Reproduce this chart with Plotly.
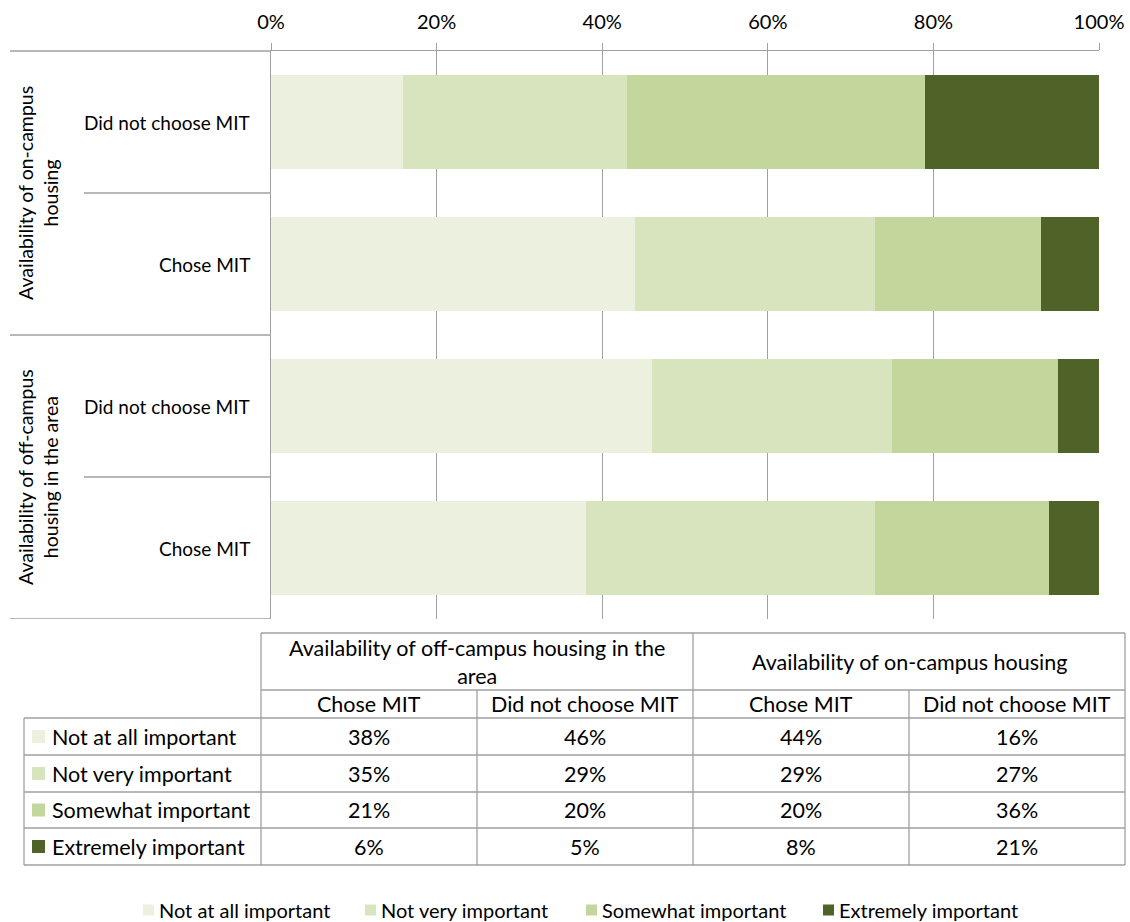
import plotly.graph_objects as go

# ---------------- data ----------------
groups = ["Availability of off-campus housing in the area", "Availability of on-campus housing"]
group_labels_axis = ["Availability of off-campus<br>housing in the area", "Availability of on-campus<br>housing"]
group_labels_table = ["Availability of off-campus housing in the<br>area", "Availability of on-campus housing"]
subgroups = ["Chose MIT", "Did not choose MIT"]
series = ["Not at all important", "Not very important", "Somewhat important", "Extremely important"]
colors = ["#EBF1DE", "#D7E4BD", "#C3D69B", "#4F6228"]
# order of columns: off-campus/Chose, off-campus/Did not, on-campus/Chose, on-campus/Did not
not_at_all = [38, 46, 44, 16]
not_very = [35, 29, 29, 27]
somewhat = [21, 20, 20, 36]
extremely = [6, 5, 8, 21]
values = [not_at_all, not_very, somewhat, extremely]
tick_vals = [0, 0.2, 0.4, 0.6, 0.8, 1.0]

# ---------------- geometry helpers ----------------
W, H = 1130, 922
FONT = "Lato"
TXT = "#000000"
LINE = "#A0A0A0"


def px(x):
    return x / W


def py(y):
    return 1 - y / H


cats = []
for g in groups:
    for s in subgroups:
        cats.append((g, s))
ypos = list(range(len(cats)))  # 0 = bottom

fig = go.Figure()
for name, col, vals in zip(series, colors, values):
    fig.add_trace(go.Bar(
        x=[v / 100 for v in vals], y=ypos, orientation="h", name=name,
        marker=dict(color=col, line=dict(width=0)), width=0.66,
        showlegend=False, hoverinfo="skip"))

shapes = []
annotations = []
LW = 1.3

# category axis separators
shapes.append(dict(type="line", xref="paper", yref="paper", x0=px(10), x1=px(271), y0=py(51), y1=py(51),
                   line=dict(color=LINE, width=LW)))
n_sub = len(subgroups)
for gi in range(len(groups)):
    lo = gi * n_sub - 0.5
    hi = (gi + 1) * n_sub - 0.5
    shapes.append(dict(type="line", xref="paper", yref="y", x0=px(10), x1=px(271), y0=lo, y1=lo,
                       line=dict(color=LINE, width=LW)))
    for k in range(1, n_sub):
        yy = lo + k
        shapes.append(dict(type="line", xref="paper", yref="y", x0=px(84), x1=px(271), y0=yy, y1=yy,
                           line=dict(color=LINE, width=LW)))
    annotations.append(dict(xref="paper", yref="y", x=px(38), y=(lo + hi) / 2, text=group_labels_axis[gi],
                            textangle=-90, showarrow=False, xanchor="center", yanchor="middle",
                            font=dict(family=FONT, size=19.5, color=TXT)))

for (g, s), yv in zip(cats, ypos):
    annotations.append(dict(xref="paper", yref="y", x=px(252), y=yv, text=s, showarrow=False,
                            xanchor="right", yanchor="middle", font=dict(family=FONT, size=19, color=TXT)))

# ---------------- data table ----------------
col_x = [261, 477, 693, 909, 1125]
left_x = 24
row_y = [633, 690, 718, 755, 792, 828, 865]


def hline(x0, x1, y):
    shapes.append(dict(type="line", xref="paper", yref="paper", x0=px(x0), x1=px(x1), y0=py(y), y1=py(y),
                       line=dict(color=LINE, width=LW)))


def vline(x, y0, y1):
    shapes.append(dict(type="line", xref="paper", yref="paper", x0=px(x), x1=px(x), y0=py(y0), y1=py(y1),
                       line=dict(color=LINE, width=LW)))


hline(col_x[0], col_x[-1], row_y[0])
hline(col_x[0], col_x[-1], row_y[1])
for y in row_y[2:]:
    hline(left_x, col_x[-1], y)
vline(left_x, row_y[2], row_y[-1])
vline(col_x[0], row_y[0], row_y[-1])
vline(col_x[2], row_y[0], row_y[-1])
vline(col_x[-1], row_y[0], row_y[-1])
vline(col_x[1], row_y[1], row_y[-1])
vline(col_x[3], row_y[1], row_y[-1])

TFS = 21.5
for gi, gl in enumerate(group_labels_table):
    xc = (col_x[gi * 2] + col_x[gi * 2 + 2]) / 2
    annotations.append(dict(xref="paper", yref="paper", x=px(xc), y=py((row_y[0] + row_y[1]) / 2), text=gl,
                            showarrow=False, xanchor="center", yanchor="middle",
                            font=dict(family=FONT, size=TFS, color=TXT)))
for ci, (g, s) in enumerate(cats):
    xc = (col_x[ci] + col_x[ci + 1]) / 2
    annotations.append(dict(xref="paper", yref="paper", x=px(xc), y=py((row_y[1] + row_y[2]) / 2), text=s,
                            showarrow=False, xanchor="center", yanchor="middle",
                            font=dict(family=FONT, size=TFS, color=TXT)))
for ri, (name, col, vals) in enumerate(zip(series, colors, values)):
    yc = (row_y[2 + ri] + row_y[3 + ri]) / 2
    shapes.append(dict(type="rect", xref="paper", yref="paper", x0=px(32), x1=px(45), y0=py(yc - 6.5),
                       y1=py(yc + 6.5), fillcolor=col, line=dict(width=0)))
    annotations.append(dict(xref="paper", yref="paper", x=px(50), y=py(yc), text=name, showarrow=False,
                            xanchor="left", yanchor="middle", font=dict(family=FONT, size=TFS, color=TXT)))
    for ci, v in enumerate(vals):
        xc = (col_x[ci] + col_x[ci + 1]) / 2
        annotations.append(dict(xref="paper", yref="paper", x=px(xc), y=py(yc), text=f"{v}%", showarrow=False,
                                xanchor="center", yanchor="middle", font=dict(family=FONT, size=TFS, color=TXT)))

# ---------------- bottom legend ----------------
leg_x = [143, 365, 586, 823]
leg_y = 910
for name, col, lx in zip(series, colors, leg_x):
    shapes.append(dict(type="rect", xref="paper", yref="paper", x0=px(lx), x1=px(lx + 11), y0=py(leg_y - 5.5),
                       y1=py(leg_y + 5.5), fillcolor=col, line=dict(width=0)))
    annotations.append(dict(xref="paper", yref="paper", x=px(lx + 14), y=py(leg_y), text=name, showarrow=False,
                            xanchor="left", yanchor="middle", font=dict(family=FONT, size=20, color=TXT)))

fig.update_layout(
    width=W, height=H, margin=dict(l=0, r=0, t=0, b=0, pad=0, autoexpand=False), autosize=False,
    paper_bgcolor="white", plot_bgcolor="white",
    barmode="stack", bargap=0.34, showlegend=False,
    font=dict(family=FONT, size=19, color=TXT),
    xaxis=dict(domain=[px(271), px(1099)], side="top", range=[0, 1], tickvals=tick_vals, tickformat=".0%",
               showgrid=True, gridcolor=LINE, gridwidth=LW, ticks="outside", ticklen=7, tickcolor=LINE,
               tickwidth=LW, showline=True, linecolor=LINE, linewidth=LW, zeroline=False, automargin=False,
               ticklabelstandoff=6, tickfont=dict(family=FONT, size=20, color=TXT)),
    yaxis=dict(domain=[py(619), py(51)], range=[-0.5, len(cats) - 0.5], showticklabels=False, showgrid=False,
               zeroline=False, showline=True, linecolor=LINE, linewidth=LW, ticks="", automargin=False),
    shapes=shapes, annotations=annotations,
)

page_css = ("document.body.style.margin='0';document.body.style.padding='0';"
            "document.body.style.overflow='hidden';document.documentElement.style.overflow='hidden';")
fig.write_html("out.html", config={"responsive": False, "displayModeBar": False}, post_script=page_css)
